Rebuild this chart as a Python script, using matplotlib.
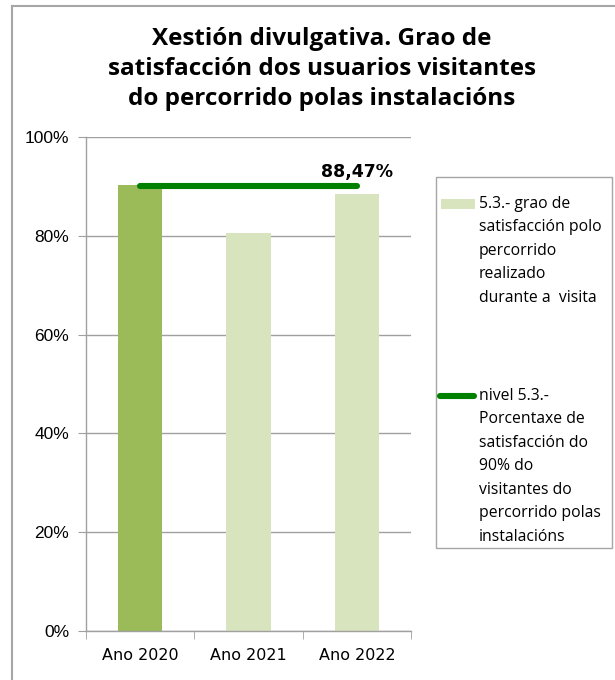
import matplotlib
matplotlib.use("Agg")
import matplotlib.pyplot as plt
from matplotlib.patches import Rectangle
from matplotlib.lines import Line2D
from matplotlib.ticker import PercentFormatter, FixedLocator

categories = ["Ano 2020", "Ano 2021", "Ano 2022"]
satisfaction = [90.3, 80.6, 88.47]
target_level = [90.0, 90.0, 90.0]
bar_colors = ["#9BBB59", "#D7E4BD", "#D7E4BD"]
label_text = "88,47%"
title = "Xestión divulgativa. Grao de\nsatisfacción dos usuarios visitantes\ndo percorrido polas instalacións"
legend_bar = "5.3.- grao de\nsatisfacción polo\npercorrido\nrealizado\ndurante a  visita"
legend_line = "nivel 5.3.-\nPorcentaxe de\nsatisfacción do\n90% do\nvisitantes do\npercorrido polas\ninstalacións"

W, H = 615, 680
fig = plt.figure(figsize=(W / 100, H / 100), dpi=100)

def fx(px):
    return px / W

def fy(py):
    return 1 - py / H

# outer frame (left and top visible)
fig.add_artist(Line2D([fx(12), fx(12)], [fy(6), 0], color="#A6A6A6", lw=1.5, transform=fig.transFigure))
fig.add_artist(Line2D([fx(12), 1], [fy(6), fy(6)], color="#A6A6A6", lw=1.5, transform=fig.transFigure))

ax = fig.add_axes([fx(86), fy(631), fx(411) - fx(86), fy(137) - fy(631)])
x = list(range(len(categories)))
ax.bar(x, satisfaction, width=0.41, color=bar_colors, zorder=2)
ax.plot(x, target_level, color="#008000", lw=4.4, solid_capstyle="round", zorder=3)
ax.annotate(label_text, (x[2], satisfaction[2]), xytext=(0, 9), textcoords="offset points",
            ha="center", va="bottom", fontsize=12.5, fontweight="bold", family="DejaVu Sans", zorder=4)

ax.set_xlim(-0.5, 2.5)
ax.set_ylim(0, 100)
ax.yaxis.set_major_locator(FixedLocator([0, 20, 40, 60, 80, 100]))
ax.yaxis.set_major_formatter(PercentFormatter(decimals=0))
ax.set_xticks(x)
ax.set_xticklabels(categories, family="DejaVu Sans", fontsize=11.5)
ax.xaxis.set_minor_locator(FixedLocator([-0.5, 0.5, 1.5, 2.5]))
ax.tick_params(axis="x", which="major", length=0, pad=12)
ax.tick_params(axis="x", which="minor", length=6, color="#A0A0A0", direction="out")
ax.tick_params(axis="y", length=6, color="#A0A0A0", direction="out", pad=6)
for lab in ax.get_yticklabels():
    lab.set_family("Liberation Sans")
    lab.set_fontsize(12.5)
ax.grid(axis="y", color="#A0A0A0", lw=1, zorder=0)
ax.set_axisbelow(True)
for s in ["top", "right"]:
    ax.spines[s].set_visible(False)
for s in ["left", "bottom"]:
    ax.spines[s].set_color("#A0A0A0")
    ax.spines[s].set_linewidth(1)

fig.text(fx(322), fy(27), title, ha="center", va="top", fontsize=17.5, fontweight="bold",
         family="Open Sans", linespacing=1.33)

# legend
fig.add_artist(Rectangle((fx(436), fy(548)), fx(612) - fx(436), fy(177) - fy(548),
                         transform=fig.transFigure, facecolor="white", edgecolor="#A6A6A6", lw=1))
fig.add_artist(Rectangle((fx(441), fy(209)), fx(475) - fx(441), fy(199) - fy(209),
                         transform=fig.transFigure, facecolor=bar_colors[1], edgecolor="none"))
fig.add_artist(Line2D([fx(440), fx(474)], [fy(396), fy(396)], color="#008000", lw=4.4,
                      solid_capstyle="round", transform=fig.transFigure))
fig.text(fx(479), fy(196), legend_bar, ha="left", va="top", fontsize=11.3, family="Open Sans", linespacing=1.62)
fig.text(fx(479), fy(388), legend_line, ha="left", va="top", fontsize=11.3, family="Open Sans", linespacing=1.62)

fig.savefig("out.png", dpi=100)
